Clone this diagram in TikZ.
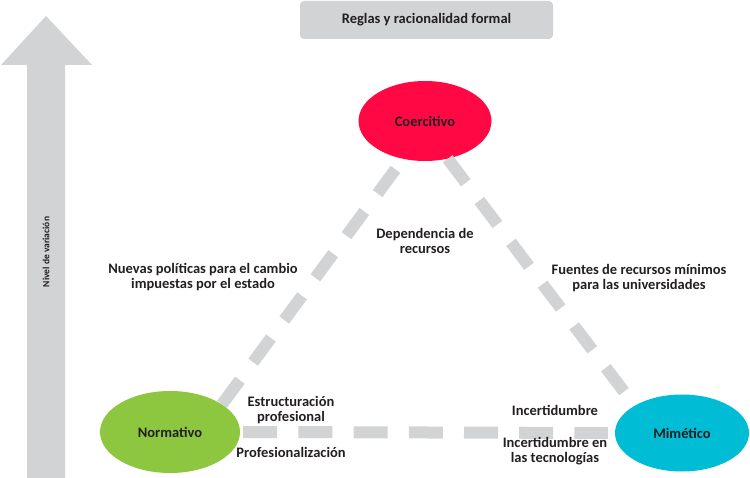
\documentclass[tikz,border=0pt]{standalone}
\usepackage{fontspec}
\setmainfont{Carlito}
\usepackage{tikz}
\usetikzlibrary{shapes.geometric, positioning}
\definecolor{gris}{HTML}{D1D3D4}
\definecolor{rojo}{HTML}{FF0844}
\definecolor{verde}{HTML}{8DC63F}
\definecolor{cian}{HTML}{00BCD4}
\definecolor{tinta}{HTML}{231F20}
\tikzset{
x=1pt, y=-1pt,
text=tinta,
every node/.style={font=\bfseries\fontsize{14.5}{15}\selectfont, align=center},
tipo/.style={%
    ellipse,
    minimum width=#1,
    minimum height=80,
    inner sep=0pt,
},
tipo/.default=136,
link/.style={%
    draw=gris,
    line width=12pt,
    dash pattern=on 30pt off 22.4pt,
},
titulo/.style={%
    rectangle,
    rounded corners=4pt,
    fill=gris,
    minimum width=253,
    minimum height=38,
},
rotulo/.style={inner sep=1pt},
}

\begin{document}
\begin{tikzpicture}
	\useasboundingbox (0,0) rectangle (750,478);
	% flecha del nivel de variacion
	\fill[gris] (27,478) -- (27,65) -- (1,65) -- (46,16) -- (92,65) -- (65,65) -- (65,478) -- cycle;
	\node[rotate=90, font=\bfseries\fontsize{9.5}{10}\selectfont] (nivel) at (46,252) {Nivel de variación};

	\node[titulo] (reglas) at (426.5,20) {Reglas y racionalidad formal};

	\node[tipo=133, fill=rojo] (coer) at (425,121) {Coercitivo};
	\node[tipo=140, minimum height=82, fill=verde] (norm) at (170,432) {Normativo};
	\node[tipo=134, minimum height=77, fill=cian] (mime) at (682,433) {Mimético};

	\draw[link] (norm.28) -- (coer.240);
	\draw[link] (coer.301) -- (mime.150);
	\draw[link, dash pattern=on 34pt off 21.2pt, shorten <=3pt, shorten >=7pt] (norm.east) -- (mime.west);

	\node[rotulo] (dep) at (425,241) {Dependencia de\\recursos};
	\node[rotulo] (nuevas) at (203,277) {Nuevas políticas para el cambio\\impuestas por el estado};
	\node[rotulo] (fuentes) at (639,278) {Fuentes de recursos mínimos\\para las universidades};
	\node[rotulo] (estruc) at (291,410) {Estructuración\\profesional};
	\node[rotulo] (prof) at (291,452) {Profesionalización};
	\node[rotulo] (incert) at (555,410) {Incertidumbre};
	\node[rotulo] (tecno) at (555,451) {Incertidumbre en\\las tecnologías};
\end{tikzpicture}
\end{document}
